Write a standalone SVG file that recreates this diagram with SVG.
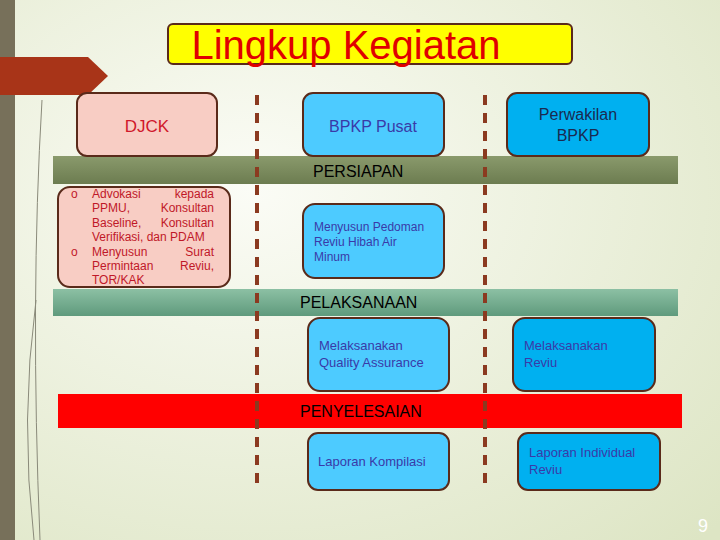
<svg xmlns="http://www.w3.org/2000/svg" width="720" height="540" viewBox="0 0 720 540">
<defs>
<radialGradient id="bg" cx="0.35" cy="0.35" r="0.9"><stop offset="0" stop-color="#fbfcf6"/><stop offset="1" stop-color="#dde5c4"/></radialGradient>
<linearGradient id="g1" x1="0" x2="0" y1="0" y2="1"><stop offset="0" stop-color="#8a9a6c"/><stop offset="1" stop-color="#6c7c50"/></linearGradient>
<linearGradient id="g2" x1="0" x2="0" y1="0" y2="1"><stop offset="0" stop-color="#8cc0a4"/><stop offset="1" stop-color="#5f9a7c"/></linearGradient>
<style>
.bx{stroke:#5a2a1a;stroke-width:2}
.pk{fill:#f8cdc4}.lb{fill:#4dcbff}.db{fill:#00b0f0}
.t{font-family:"Liberation Sans",Arial,sans-serif}
.dash{stroke:#8b3a20;stroke-width:4;stroke-dasharray:10 8;fill:none}
.sm{font-size:12px;fill:#3a3aa8}
.band{font-size:16px;fill:#000}
</style>
</defs>
<rect width="720" height="540" fill="url(#bg)"/>
<rect x="0" y="0" width="15" height="540" fill="#77705a"/>
<path d="M0 57H88L108 76L88 95H0Z" fill="#a83418"/>
<path d="M42 100Q30 300 40 540M36 300Q20 420 34 540" stroke="#8a8a7a" stroke-width="1" fill="none"/>
<g id="title"><rect x="168" y="24" width="404" height="40" rx="5" fill="#ffff00" class="bx"/>
<text x="346" y="59" text-anchor="middle" class="t" font-size="40" fill="#e00000">Lingkup Kegiatan</text></g>
<g id="bands">
<rect x="53" y="156" width="625" height="28" fill="url(#g1)"/><text x="313" y="177" class="t band">PERSIAPAN</text>
<rect x="53" y="289" width="625" height="27" fill="url(#g2)"/><text x="300" y="308" class="t band">PELAKSANAAN</text>
<rect x="58" y="394" width="624" height="34" fill="#ff0000"/><text x="300" y="417" class="t band">PENYELESAIAN</text>
</g>
<g id="connectors">
<line class="dash" x1="257" y1="95" x2="257" y2="486"/>
<line class="dash" x1="485" y1="95" x2="485" y2="486"/>
</g>
<g id="djck"><rect x="77" y="93" width="140" height="63" rx="10" class="bx pk"/><text x="147" y="132" text-anchor="middle" class="t" font-size="17" fill="#d0182b">DJCK</text></g>
<g id="bpkp"><rect x="303" y="93" width="141" height="63" rx="10" class="bx lb"/><text x="373" y="132" text-anchor="middle" class="t" font-size="16" fill="#3a3aa8">BPKP Pusat</text></g>
<g id="perwakilan"><rect x="507" y="93" width="142" height="63" rx="10" class="bx db"/><text x="578" y="120" text-anchor="middle" class="t" font-size="16" fill="#1a2a50">Perwakilan</text><text x="578" y="141" text-anchor="middle" class="t" font-size="16" fill="#1a2a50">BPKP</text></g>
<g id="djck-list"><rect x="58" y="187" width="172" height="100" rx="12" class="bx pk"/>
<g class="t" font-size="12" fill="#c01828">
<text x="71" y="198">o</text><text x="71" y="256">o</text>
<text x="92" y="198">Advokasi</text><text x="214" y="198" text-anchor="end">kepada</text>
<text x="92" y="212">PPMU,</text><text x="214" y="212" text-anchor="end">Konsultan</text>
<text x="92" y="227">Baseline,</text><text x="214" y="227" text-anchor="end">Konsultan</text>
<text x="92" y="241">Verifikasi, dan PDAM</text>
<text x="92" y="256">Menyusun</text><text x="214" y="256" text-anchor="end">Surat</text>
<text x="92" y="270">Permintaan</text><text x="214" y="270" text-anchor="end">Reviu,</text>
<text x="92" y="284">TOR/KAK</text></g></g>
<g id="pedoman"><rect x="303" y="204" width="141" height="74" rx="12" class="bx lb"/><g class="t sm"><text x="314" y="231">Menyusun Pedoman</text><text x="314" y="246">Reviu Hibah Air</text><text x="314" y="261">Minum</text></g></g>
<g id="qa"><rect x="308" y="318" width="141" height="73" rx="12" class="bx lb"/><g class="t" font-size="13" fill="#3a3aa8"><text x="319" y="350">Melaksanakan</text><text x="319" y="367">Quality Assurance</text></g></g>
<g id="reviu"><rect x="513" y="318" width="142" height="73" rx="12" class="bx db"/><g class="t" font-size="13" fill="#3a3aa8"><text x="524" y="350">Melaksanakan</text><text x="524" y="367">Reviu</text></g></g>
<g id="kompilasi"><rect x="308" y="433" width="141" height="57" rx="10" class="bx lb"/><text x="318" y="466" class="t" font-size="13" fill="#3a3aa8">Laporan Kompilasi</text></g>
<g id="individual"><rect x="518" y="433" width="142" height="57" rx="10" class="bx db"/><g class="t" font-size="13" fill="#3a3aa8"><text x="529" y="457">Laporan Individual</text><text x="529" y="474">Reviu</text></g></g>
<text x="708" y="532" text-anchor="end" class="t" font-size="18" fill="#ffffff">9</text>
</svg>
